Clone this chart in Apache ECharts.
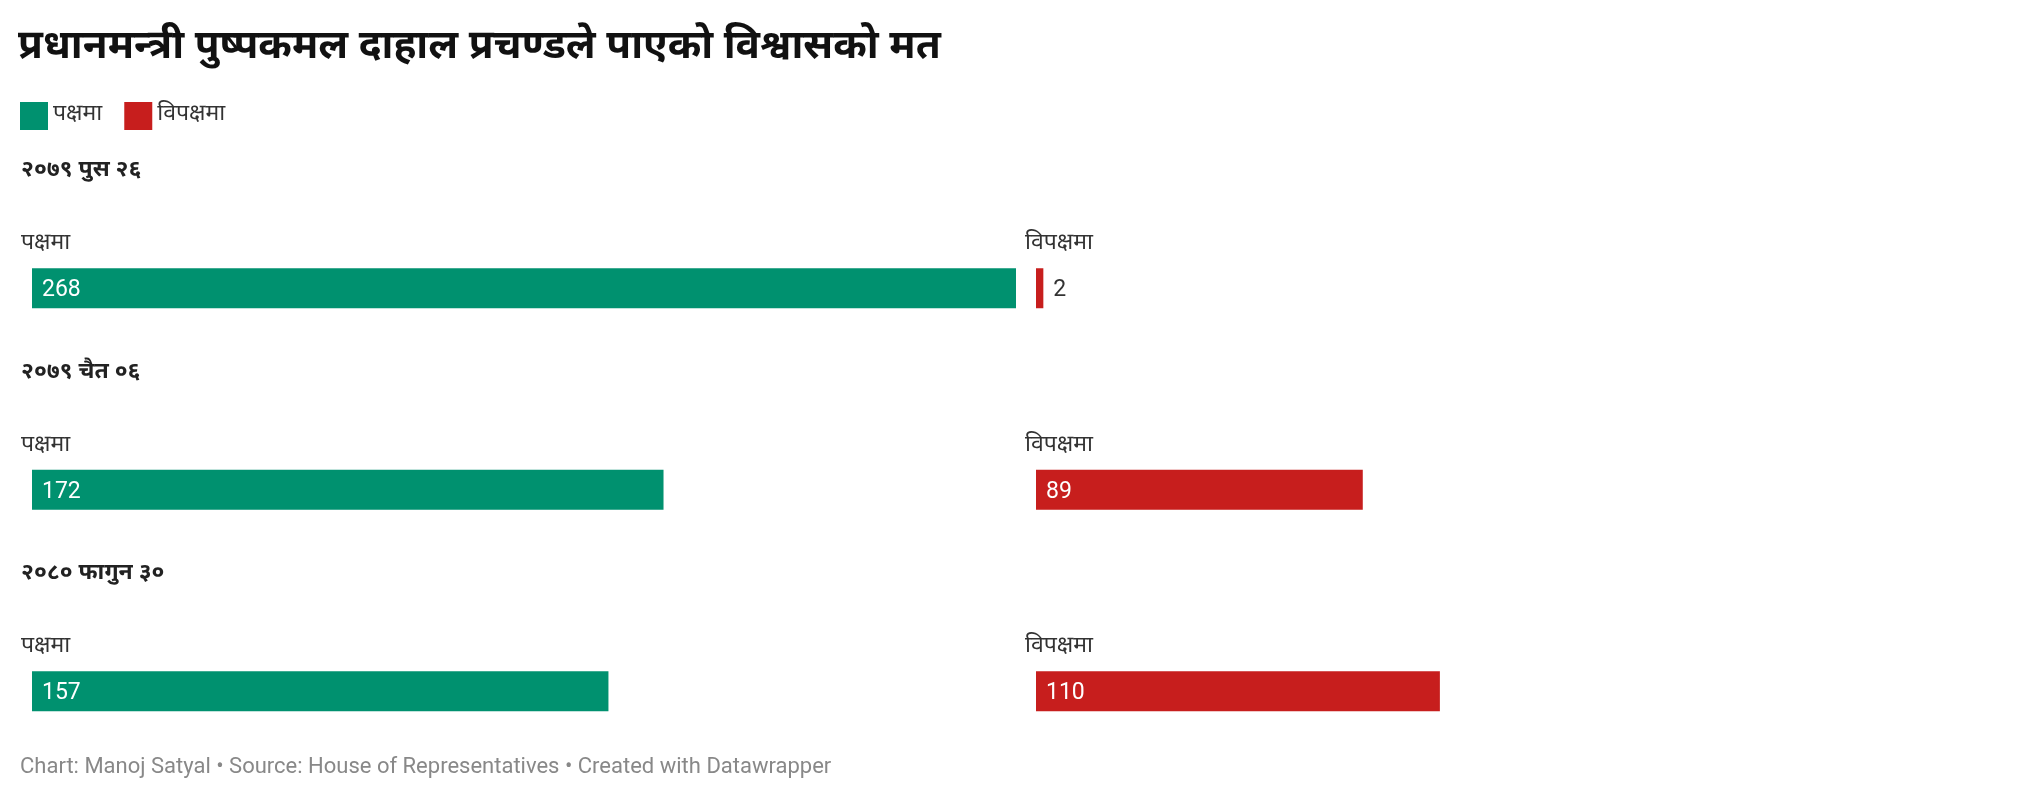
<!DOCTYPE html>
<html>
<head>
<meta charset="utf-8">
<script src="https://cdn.jsdelivr.net/npm/echarts@6/dist/echarts.min.js"></script>
<style>
  html, body { margin: 0; padding: 0; background: #fff; }
  #chart { width: 2040px; height: 800px; }
</style>
</head>
<body>
<div id="chart"></div>
<script>
const titleText = 'प्रधानमन्त्री पुष्पकमल दाहाल प्रचण्डले पाएको विश्वासको मत';
const footerText = 'Chart: Manoj Satyal • Source: House of Representatives • Created with Datawrapper';
const dates = ['२०७९ पुस २६', '२०७९ चैत ०६', '२०८० फागुन ३०'];
const seriesNames = ['पक्षमा', 'विपक्षमा'];
const forVotes = [268, 172, 157];
const againstVotes = [2, 89, 110];

const DEVA = "'Noto Sans Devanagari', 'Noto Sans', Roboto, sans-serif";
const NUM = "Roboto, 'Noto Sans', sans-serif";
const GREEN = '#00916f';
const RED = '#c71e1d';

const gridTop = 187.5, gridHeight = 604.5;
const band = gridHeight / dates.length;
const panelLeft = [32, 1036];
const panelWidth = 984;
const maxVal = Math.max(...forVotes, ...againstVotes);

const chart = echarts.init(document.getElementById('chart'));

const graphics = [];
dates.forEach((d, i) => {
  const c = gridTop + band * (i + 0.5);
  graphics.push({ type: 'text', left: 21, top: c - 128,
    style: { text: d, font: 'bold 23px ' + DEVA, fill: '#222' } });
  graphics.push({ type: 'text', left: 21, top: c - 55,
    style: { text: seriesNames[0], font: '23px ' + DEVA, fill: '#333' } });
  graphics.push({ type: 'text', left: 1025, top: c - 55,
    style: { text: seriesNames[1], font: '23px ' + DEVA, fill: '#333' } });
});
graphics.push({ type: 'text', left: 20, top: 756,
  style: { text: footerText, font: '22px ' + NUM, fill: '#888' } });

function labelFor(v) {
  const inside = v > 20;
  return {
    show: true,
    position: inside ? 'insideLeft' : 'right',
    distance: 10,
    offset: [0, 2],
    color: inside ? '#fff' : '#333',
    fontFamily: NUM,
    fontSize: 23
  };
}

const axisCommonX = { type: 'value', min: 0, max: maxVal, show: false };
const axisCommonY = { type: 'category', data: dates, inverse: true, show: false };

chart.setOption({
  animation: false,
  title: {
    text: titleText, left: 18, top: 30, padding: 0,
    textStyle: { fontFamily: DEVA, fontWeight: 'bold', fontSize: 40.5, color: '#111' }
  },
  legend: {
    left: 20, top: 102, padding: 0, icon: 'rect', itemWidth: 28, itemHeight: 28, itemGap: 22,
    textStyle: { fontFamily: DEVA, fontSize: 23, color: '#333' },
    data: seriesNames
  },
  grid: [
    { left: panelLeft[0], top: gridTop, width: panelWidth, height: gridHeight },
    { left: panelLeft[1], top: gridTop, width: panelWidth, height: gridHeight }
  ],
  xAxis: [ Object.assign({ gridIndex: 0 }, axisCommonX), Object.assign({ gridIndex: 1 }, axisCommonX) ],
  yAxis: [ Object.assign({ gridIndex: 0 }, axisCommonY), Object.assign({ gridIndex: 1 }, axisCommonY) ],
  series: [
    { name: seriesNames[0], type: 'bar', xAxisIndex: 0, yAxisIndex: 0, barWidth: 40,
      itemStyle: { color: GREEN },
      data: forVotes.map(v => ({ value: v, label: labelFor(v) })) },
    { name: seriesNames[1], type: 'bar', xAxisIndex: 1, yAxisIndex: 1, barWidth: 40,
      itemStyle: { color: RED },
      data: againstVotes.map(v => ({ value: v, label: labelFor(v) })) }
  ],
  graphic: graphics
});
</script>
</body>
</html>
